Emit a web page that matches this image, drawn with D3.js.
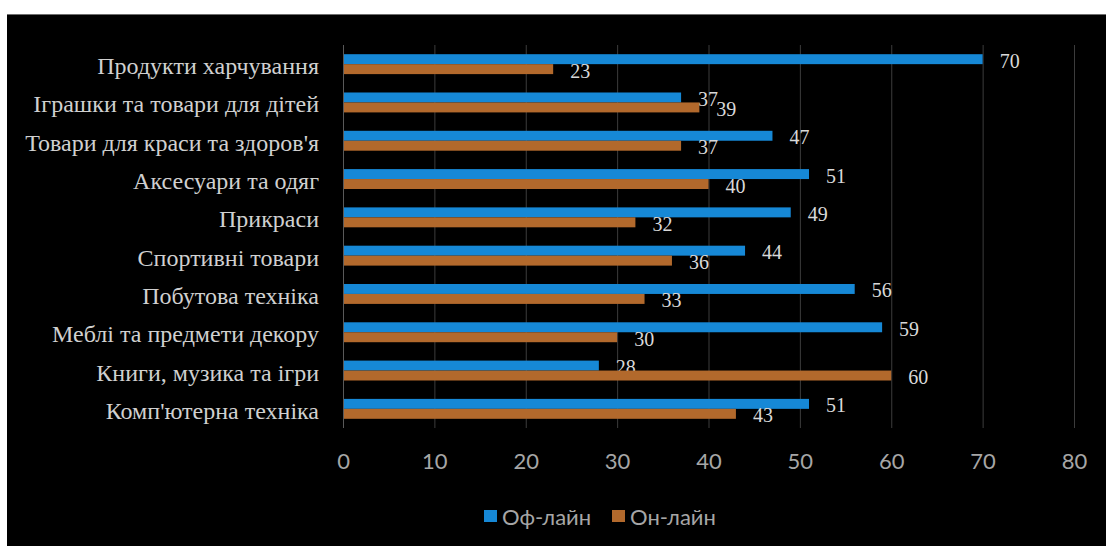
<!DOCTYPE html>
<html>
<head>
<meta charset="utf-8">
<script src="https://cdn.jsdelivr.net/npm/d3@7"></script>
<style>
  html, body { margin: 0; padding: 0; background: #ffffff; }
  svg { display: block; }
</style>
</head>
<body>
<svg id="chart" width="1106" height="546"></svg>
<script>
// Categories, top to bottom
const categories = [
  "Продукти харчування",
  "Іграшки та товари для дітей",
  "Товари для краси та здоров'я",
  "Аксесуари та одяг",
  "Прикраси",
  "Спортивні товари",
  "Побутова техніка",
  "Меблі  та предмети декору",
  "Книги, музика та ігри",
  "Комп'ютерна техніка"
];
const offline = [70, 37, 47, 51, 49, 44, 56, 59, 28, 51];
const online  = [23, 39, 37, 40, 32, 36, 33, 30, 60, 43];
const seriesNames = ["Оф-лайн", "Он-лайн"];
const xTicks = [0, 10, 20, 30, 40, 50, 60, 70, 80];

const colors = ["#1688d6", "#b2692c"];

const svg = d3.select("#chart");
const W = 1106, H = 546;

// dark chart panel
svg.append("rect").attr("x", 7).attr("y", 14).attr("width", W - 7).attr("height", H - 14)
  .attr("fill", "#000000");
svg.append("line").attr("x1", 7).attr("x2", W).attr("y1", 14.5).attr("y2", 14.5)
  .attr("stroke", "#6e6e6e").attr("stroke-width", 1);

const plot = { left: 343, right: 1074, top: 45, bottom: 428 };

const x = d3.scaleLinear().domain([0, 80]).range([plot.left, plot.right]);
const y = d3.scaleBand().domain(categories).range([plot.top, plot.bottom])
  .paddingInner(0.48).paddingOuter(0.24);
const ySub = d3.scaleBand().domain(seriesNames).range([0, y.bandwidth()]);

// vertical gridlines
svg.append("g").selectAll("line").data(xTicks.filter(d => d > 0)).join("line")
  .attr("x1", d => x(d) + 0.5).attr("x2", d => x(d) + 0.5)
  .attr("y1", plot.top).attr("y2", plot.bottom)
  .attr("stroke", "#3c3c3c").attr("stroke-width", 1);

// bars
const rows = categories.map((c, i) => ({ c, vals: [offline[i], online[i]] }));
const g = svg.append("g");
rows.forEach(r => {
  r.vals.forEach((v, k) => {
    const yy = y(r.c) + ySub(seriesNames[k]);
    g.append("rect")
      .attr("x", x(0)).attr("y", yy)
      .attr("width", x(v) - x(0)).attr("height", ySub.bandwidth())
      .attr("fill", colors[k]);
    g.append("text")
      .attr("x", x(v) + 17).attr("y", yy + ySub.bandwidth() / 2 + 1.5)
      .attr("dominant-baseline", "central")
      .attr("font-family", "'Liberation Serif', 'Times New Roman', serif")
      .attr("font-size", 20).attr("fill", "#d9d9d9")
      .text(v);
  });
});

// category axis line
svg.append("line").attr("x1", x(0) + 0.5).attr("x2", x(0) + 0.5)
  .attr("y1", plot.top).attr("y2", plot.bottom)
  .attr("stroke", "#595959").attr("stroke-width", 1);

// category labels
svg.append("g").selectAll("text").data(categories).join("text")
  .attr("x", 319).attr("y", d => y(d) + y.bandwidth() / 2 + 2)
  .attr("text-anchor", "end").attr("dominant-baseline", "central")
  .attr("font-family", "'Liberation Serif', 'Times New Roman', serif")
  .attr("font-size", 24).attr("fill", "#d0d0d0")
  .text(d => d);

// value axis tick labels
const xAxis = d3.axisBottom(x).tickValues(xTicks).tickSize(0).tickPadding(0);
const ax = svg.append("g").attr("transform", `translate(0, ${plot.bottom})`).call(xAxis);
ax.select(".domain").remove();
ax.selectAll("text")
  .attr("dy", null).attr("y", 32).attr("dominant-baseline", "central")
  .attr("font-family", "Lato, 'Open Sans', sans-serif")
  .attr("font-size", 22).attr("fill", "#a6a6a6");

// legend
const legend = svg.append("g");
const legendItems = [{ name: seriesNames[0], x: 484 }, { name: seriesNames[1], x: 612 }];
legendItems.forEach((it, k) => {
  legend.append("rect").attr("x", it.x).attr("y", 510).attr("width", 13).attr("height", 12)
    .attr("fill", colors[k]);
  legend.append("text").attr("x", it.x + 18).attr("y", 516)
    .attr("dominant-baseline", "central")
    .attr("font-family", "Lato, 'Open Sans', sans-serif")
    .attr("font-size", 22).attr("fill", "#a6a6a6")
    .text(it.name);
});
</script>
</body>
</html>
